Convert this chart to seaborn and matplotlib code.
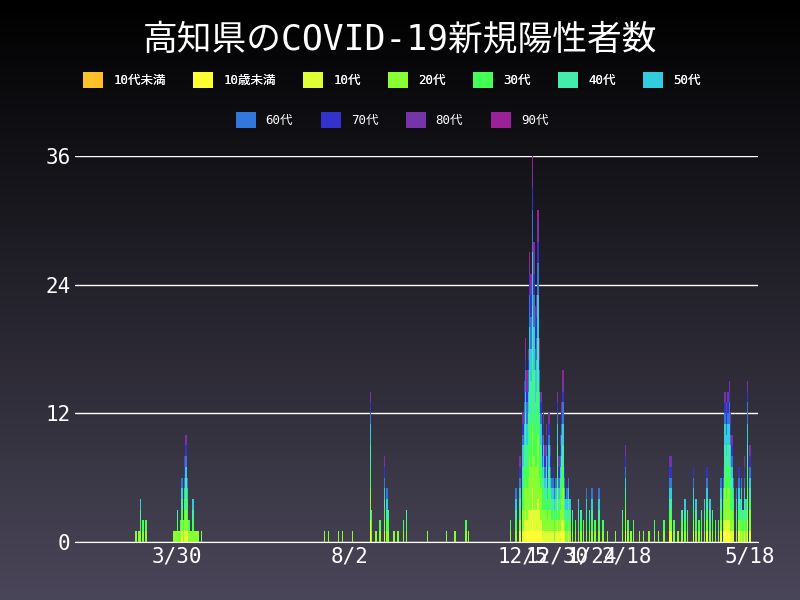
import numpy as np
import pandas as pd
import matplotlib
matplotlib.use("Agg")
import matplotlib.pyplot as plt
import seaborn as sns

ages = ["10代未満", "10歳未満", "10代", "20代", "30代", "40代", "50代", "60代", "70代", "80代", "90代"]
colors = ["#FFC02A", "#FFFF33", "#DDFF33", "#88FF33", "#44FF55", "#44EEAA", "#33CCDD",
          "#3377DD", "#3333CC", "#7733AA", "#992299"]

# daily totals
dates = ["2020-03-01", "2020-03-03", "2020-03-04", "2020-03-06", "2020-03-08",
         "2020-03-28", "2020-03-29", "2020-03-30", "2020-03-31", "2020-04-01", "2020-04-02",
         "2020-04-03", "2020-04-04", "2020-04-05", "2020-04-06", "2020-04-07", "2020-04-08",
         "2020-04-09", "2020-04-10", "2020-04-11", "2020-04-12", "2020-04-13", "2020-04-14",
         "2020-04-15", "2020-04-17",
         "2020-07-15", "2020-07-18", "2020-07-25", "2020-07-28", "2020-08-04",
         "2020-08-17", "2020-08-18", "2020-08-21", "2020-08-24", "2020-08-27", "2020-08-29",
         "2020-08-30", "2020-09-03", "2020-09-06", "2020-09-10", "2020-09-12", "2020-09-27",
         "2020-10-11", "2020-10-17", "2020-10-25", "2020-10-27",
         "2020-11-26", "2020-11-30", "2020-12-03", "2020-12-05", "2020-12-06", "2020-12-07",
         "2020-12-08", "2020-12-09", "2020-12-10", "2020-12-11", "2020-12-12", "2020-12-13",
         "2020-12-14", "2020-12-15", "2020-12-16", "2020-12-17", "2020-12-18", "2020-12-19",
         "2020-12-20", "2020-12-21", "2020-12-22", "2020-12-23", "2020-12-24", "2020-12-25",
         "2020-12-26", "2020-12-27", "2020-12-28", "2020-12-29", "2020-12-30", "2020-12-31",
         "2021-01-01", "2021-01-02", "2021-01-03", "2021-01-04", "2021-01-05", "2021-01-06",
         "2021-01-07", "2021-01-08", "2021-01-10", "2021-01-12", "2021-01-14", "2021-01-16",
         "2021-01-18", "2021-01-20", "2021-01-22", "2021-01-24", "2021-01-26", "2021-01-29",
         "2021-02-01", "2021-02-04", "2021-02-10", "2021-02-15", "2021-02-17", "2021-02-19",
         "2021-02-21", "2021-02-23", "2021-02-27", "2021-03-02", "2021-03-06", "2021-03-10",
         "2021-03-13", "2021-03-17", "2021-03-21", "2021-03-22", "2021-03-24", "2021-03-27",
         "2021-03-30", "2021-04-01", "2021-04-03", "2021-04-07", "2021-04-09", "2021-04-11",
         "2021-04-13", "2021-04-15", "2021-04-17", "2021-04-19", "2021-04-21", "2021-04-23",
         "2021-04-25", "2021-04-27", "2021-04-29", "2021-04-30", "2021-05-01", "2021-05-02",
         "2021-05-03", "2021-05-04", "2021-05-05", "2021-05-06", "2021-05-08", "2021-05-10",
         "2021-05-11", "2021-05-12", "2021-05-13", "2021-05-14", "2021-05-15", "2021-05-16",
         "2021-05-18"]
totals = [1, 1, 4, 2, 2,
          1, 1, 1, 3, 1, 2, 6, 2, 8, 10, 6, 2, 1, 1, 4, 1, 1, 1, 1, 1,
          1, 1, 1, 1, 1,
          14, 3, 1, 2, 8, 5, 3, 1, 1, 2, 3, 1,
          1, 1, 2, 1,
          2, 5, 8, 12, 15, 19, 16, 18, 27, 25, 36, 28,
          22, 23, 31, 19, 14, 10, 12, 9, 11, 8, 12, 9,
          6, 7, 5, 6, 14, 8, 10, 13, 16, 7, 4, 5,
          6, 4, 3, 2, 4, 3, 2, 5, 3, 5, 2, 5,
          2, 1, 1, 3, 9, 2, 1, 2, 1, 1, 1, 2,
          1, 2, 8, 8, 2, 1, 3, 4, 3, 7, 4, 2,
          3, 4, 7, 4, 3, 2, 2, 6, 7, 14, 13, 14,
          15, 12, 10, 6, 5, 7, 4, 6, 3, 8, 4, 15, 9]
# age mix weights
weights = [0, 0.4, 0.8, 1.6, 1.4, 1.3, 1.2, 0.9, 0.6, 0.5, 0.3]

def split(total):
    w = np.array(weights) / sum(weights) * total
    n = np.floor(w).astype(int)
    rem = total - n.sum()
    order = np.argsort(-(w - n))
    n[order[:rem]] += 1
    return n

df = pd.DataFrame([split(t) for t in totals], columns=ages)
df["date"] = pd.to_datetime(dates)

sns.set_style("dark")
plt.rcParams["font.family"] = ["DejaVu Sans Mono", "Noto Sans CJK JP"]
fig = plt.figure(figsize=(8, 6), dpi=100)
bg = fig.add_axes([0, 0, 1, 1], zorder=-10)
grad = np.linspace(0, 1, 256).reshape(-1, 1)
bg.imshow(grad, aspect="auto", extent=[0, 1, 0, 1],
          cmap=matplotlib.colors.LinearSegmentedColormap.from_list("g", ["#4a4659", "#000000"]),
          origin="lower")
bg.axis("off")

ax = fig.add_axes([0.094, 0.097, 0.854, 0.643])
ax.set_facecolor("none")
bottom = np.zeros(len(df))
handles = []
for a, c in zip(ages, colors):
    h = ax.bar(df["date"], df[a], bottom=bottom, width=1.0, color=c, label=a, linewidth=0)
    handles.append(h)
    bottom += df[a].values

ax.set_xlim(pd.Timestamp("2020-01-17"), pd.Timestamp("2021-05-24"))
ax.set_ylim(0, 36)
ax.set_yticks([0, 12, 24, 36])
ticks = ["2020-03-30", "2020-08-02", "2020-12-05", "2020-12-30", "2021-01-24", "2021-02-18", "2021-05-18"]
ax.set_xticks(pd.to_datetime(ticks))
ax.set_xticklabels(["3/30", "8/2", "12/5", "12/30", "1/24", "2/18", "5/18"])
ax.yaxis.grid(True, color="white", linewidth=1)
ax.xaxis.grid(False)
for s in ["top", "right", "left"]:
    ax.spines[s].set_visible(False)
ax.spines["bottom"].set_color("white")
ax.tick_params(colors="white", labelsize=15, length=0)

fig.text(0.5, 0.935, "高知県のCOVID-19新規陽性者数", color="white", fontsize=25, ha="center", va="center")
leg1 = fig.legend(handles[:7], ages[:7], loc="center", bbox_to_anchor=(0.49, 0.867), ncol=7,
                  frameon=False, fontsize=9, labelcolor="white", handlelength=1.6, handleheight=1.6,
                  columnspacing=2.2)
fig.legend(handles[7:], ages[7:], loc="center", bbox_to_anchor=(0.49, 0.8), ncol=4,
           frameon=False, fontsize=9, labelcolor="white", handlelength=1.6, handleheight=1.6,
           columnspacing=2.2)
fig.add_artist(leg1)
fig.savefig("out.png", dpi=100)
